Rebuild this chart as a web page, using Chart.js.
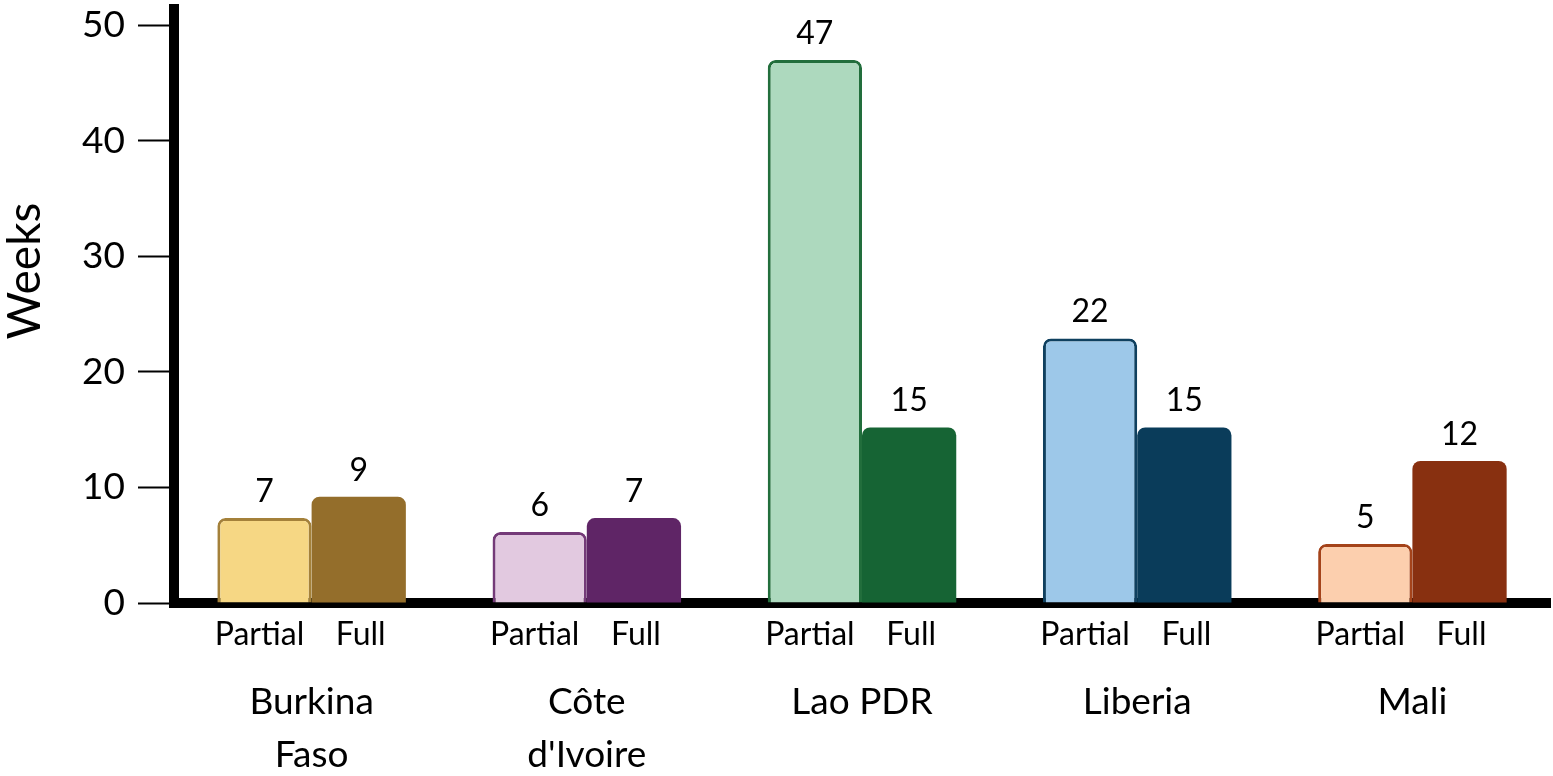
<!DOCTYPE html>
<html>
<head>
<meta charset="utf-8">
<script src="https://cdn.jsdelivr.net/npm/chart.js@4.4.1/dist/chart.umd.min.js"></script>
<style>
  html, body { margin: 0; padding: 0; background: #fff; }
  #wrap { width: 1553px; height: 776px; position: relative; }
</style>
</head>
<body>
<div id="wrap"><canvas id="myChart"></canvas></div>
<script>
// data
const countries = [["Burkina", "Faso"], ["Côte", "d'Ivoire"], "Lao PDR", "Liberia", "Mali"];
const partialWeeks = [7.35, 6.15, 47, 22.9, 5.1];
const fullWeeks = [9.2, 7.35, 15.2, 15.2, 12.3];
const partialText = ["7", "6", "47", "22", "5"];
const fullText = ["9", "7", "15", "15", "12"];
const yTicks = [0, 10, 20, 30, 40, 50];

const partialFill = ["#F6D784", "#E2C9E0", "#ADD9BE", "#9DC8E9", "#FCCFAE"];
const partialEdge = ["#A4813A", "#743A78", "#226E3C", "#0F405F", "#A4431A"];
const fullFill = ["#946E2B", "#5F2566", "#166434", "#0A3C5A", "#883010"];

Chart.defaults.font.family = "Lato, 'Open Sans', sans-serif";
Chart.defaults.color = "#000";

// value labels above bars, Partial / Full under bars, y title
const extras = {
  id: "extras",
  afterDatasetsDraw(chart) {
    const ctx = chart.ctx;
    const bottom = chart.chartArea.bottom;
    const texts = [partialText, fullText];
    const names = ["Partial", "Full"];
    ctx.save();
    ctx.fillStyle = "#000";
    ctx.textAlign = "center";
    chart.data.datasets.forEach((ds, i) => {
      chart.getDatasetMeta(i).data.forEach((bar, j) => {
        ctx.font = "32px Lato";
        ctx.textBaseline = "alphabetic";
        ctx.fillText(texts[i][j], bar.x, bar.y - 16);
        ctx.font = "32px Lato";
        ctx.textBaseline = "middle";
        ctx.fillText(names[i], bar.x + (i === 0 ? -5 : 2), bottom + 32);
      });
    });
    ctx.translate(25, 271);
    ctx.rotate(-Math.PI / 2);
    ctx.font = "46px Lato";
    ctx.textBaseline = "middle";
    ctx.fillText("Weeks", 0, 0);
    ctx.restore();
  }
};

new Chart(document.getElementById("myChart").getContext("2d"), {
  type: "bar",
  data: {
    labels: countries,
    datasets: [
      {
        label: "Partial",
        data: partialWeeks,
        backgroundColor: partialFill,
        borderColor: partialEdge,
        borderWidth: 3,
        borderRadius: 8,
        borderSkipped: "bottom"
      },
      {
        label: "Full",
        data: fullWeeks,
        backgroundColor: fullFill,
        borderColor: fullFill,
        borderWidth: 0,
        borderRadius: 8,
        borderSkipped: "bottom"
      }
    ]
  },
  options: {
    responsive: true,
    maintainAspectRatio: false,
    animation: false,
    layout: { padding: { top: 9, right: 3, left: 0, bottom: 0 } },
    datasets: {
      bar: { categoryPercentage: 0.685, barPercentage: 1 }
    },
    plugins: {
      legend: { display: false },
      tooltip: { enabled: false }
    },
    scales: {
      x: {
        grid: { display: false, drawTicks: false },
        border: { display: true, color: "#000", width: 10 },
        ticks: {
          padding: 73,
          font: { size: 37, lineHeight: 1.43 },
          color: "#000",
          maxRotation: 0,
          autoSkip: false
        },
        afterFit(scale) {
          scale.height = 173;
          scale.paddingLeft = 0;
          scale.paddingRight = 0;
        }
      },
      y: {
        min: 0,
        max: 51.41,
        grid: {
          drawOnChartArea: false,
          drawTicks: true,
          tickLength: 36,
          tickWidth: 2,
          tickColor: "#000"
        },
        border: { display: true, color: "#000", width: 10 },
        ticks: {
          stepSize: 10,
          padding: 13,
          font: { size: 37 },
          color: "#000"
        },
        afterBuildTicks(scale) {
          scale.ticks = yTicks.map(v => ({ value: v }));
        },
        afterFit(scale) {
          scale.width = 174;
          scale.paddingTop = 0;
          scale.paddingBottom = 0;
        }
      }
    }
  },
  plugins: [extras]
});
</script>
</body>
</html>
